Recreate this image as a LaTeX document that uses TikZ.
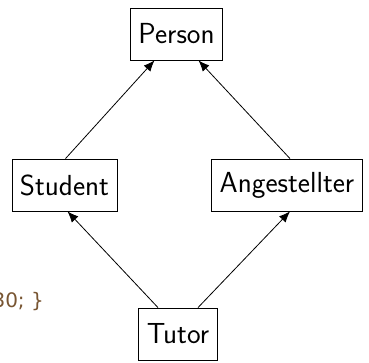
\documentclass[tikz,border=0pt]{standalone}
\usepackage{fontspec}
\newfontfamily\codefont{DejaVu Sans}
\usetikzlibrary{arrows.meta}
\definecolor{codebrown}{RGB}{120,85,50}
\begin{document}
\begin{tikzpicture}[x=1pt,y=-1pt,
  cls/.style={draw, line width=0.8pt, font=\sffamily\fontsize{29}{33}\selectfont, inner xsep=8pt, inner ysep=0pt, minimum height=52pt},
  inh/.style={line width=0.8pt, -{Latex[length=11pt,width=9pt]}},
  frag/.style={anchor=base east, inner sep=0pt, text=codebrown, font=\codefont\fontsize{20}{24}\selectfont}]
\useasboundingbox (0,0) rectangle (369,362);
\node[cls] (person) at (176.5,34) {Person};
\node[cls] (student) at (64.5,185) {Student};
\node[cls] (ang) at (287,185) {Angestellter};
\node[cls] (tutor) at (178,334) {Tutor};
\node[frag] (code) at (44,307) {30; \}};
\draw[inh] ([xshift=1pt]student.north) -- ([xshift=-22pt]person.south);
\draw[inh] ([xshift=3pt]ang.north) -- ([xshift=22pt]person.south);
\draw[inh] ([xshift=-20pt]tutor.north) -- ([xshift=3pt]student.south);
\draw[inh] ([xshift=20pt]tutor.north) -- ([xshift=3pt]ang.south);
\end{tikzpicture}
\end{document}
